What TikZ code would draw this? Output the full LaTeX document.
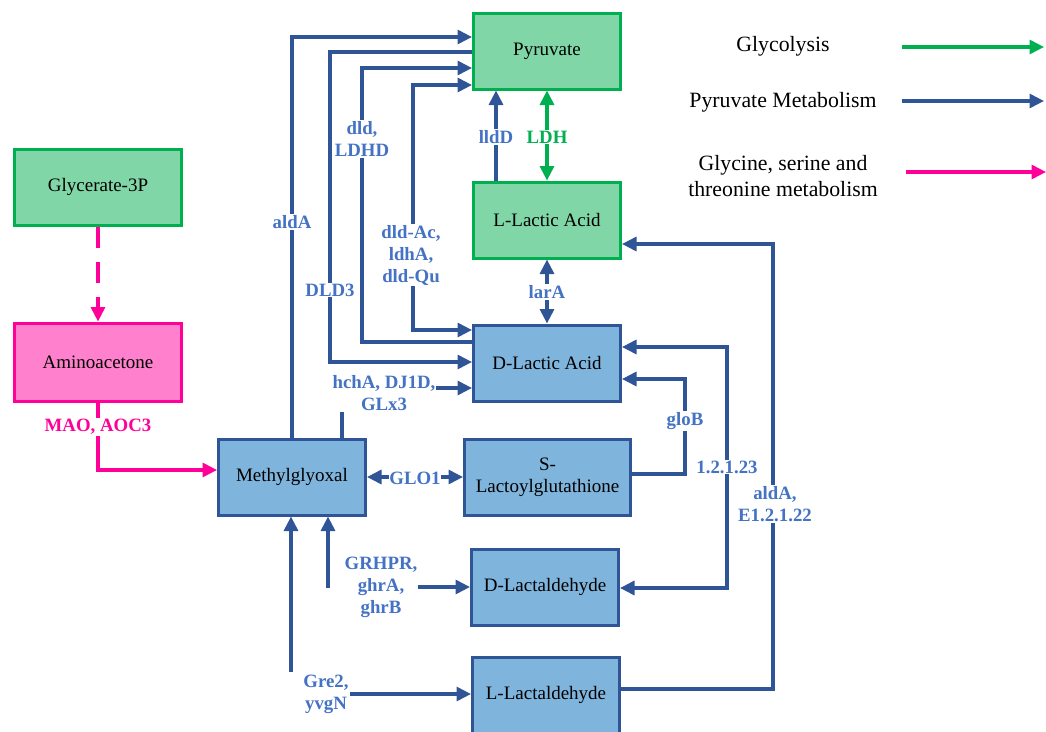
\documentclass[tikz,border=0pt]{standalone}
\usepackage{fontspec}
\setmainfont{Liberation Serif}
\usetikzlibrary{arrows.meta}
\definecolor{gfill}{RGB}{128,214,166}
\definecolor{gline}{RGB}{0,176,80}
\definecolor{bfill}{RGB}{127,180,220}
\definecolor{bline}{RGB}{47,85,151}
\definecolor{blab}{RGB}{68,114,196}
\definecolor{pfill}{RGB}{255,128,204}
\definecolor{pline}{RGB}{255,0,153}
\begin{document}
\begin{tikzpicture}[x=1pt,y=-1pt,
  box/.style={rectangle, draw, line width=3pt, align=center, inner sep=2pt,
    font=\fontsize{19}{22}\selectfont, text=black},
  gbox/.style={box, fill=gfill, draw=gline},
  bbox/.style={box, fill=bfill, draw=bline},
  pbox/.style={box, fill=pfill, draw=pline},
  tip/.tip={Triangle[length=14.5pt,width=14pt]},
  conn/.style={line width=3.2pt, draw=bline, -tip},
  conn2/.style={line width=3.2pt, draw=bline, tip-tip},
  gconn2/.style={line width=3.2pt, draw=gline, tip-tip},
  pconn/.style={line width=3.2pt, draw=pline, -tip},
  lab/.style={fill=white, inner sep=1pt, text=blab, align=center,
    font=\bfseries\fontsize{18.8}{22}\selectfont},
  glab/.style={lab, text=gline},
  plab/.style={lab, text=pline},
  leg/.style={align=center, font=\fontsize{21.8}{26}\selectfont}
]
\useasboundingbox (0,0) rectangle (1046,731);

% nodes
\node[gbox, minimum width=147pt, minimum height=76pt] (Pyr) at (547,51) {Pyruvate};
\node[gbox, minimum width=147pt, minimum height=76pt] (LLac) at (547,220) {L-Lactic Acid};
\node[bbox, minimum width=147pt, minimum height=76pt] (DLac) at (547,363) {D-Lactic Acid};
\node[gbox, minimum width=167pt, minimum height=76pt] (Gly) at (98,187) {Glycerate-3P};
\node[pbox, minimum width=167pt, minimum height=78pt] (Ami) at (98,362) {Aminoacetone};
\node[bbox, minimum width=147pt, minimum height=76pt] (Met) at (292,477) {Methylglyoxal};
\node[bbox, minimum width=166pt, minimum height=76pt] (SLac) at (547.5,477) {S-\\Lactoylglutathione};
\node[bbox, minimum width=147pt, minimum height=76pt] (DLal) at (545,587) {D-Lactaldehyde};
\node[bbox, minimum width=147pt, minimum height=76pt] (LLal) at (546,695) {L-Lactaldehyde};

% bend coordinates
\coordinate (aA) at (292,37);
\coordinate (dA) at (330,52);
\coordinate (dB) at (330,362);
\coordinate (eA) at (362,342);
\coordinate (eB) at (362,68);
\coordinate (fA) at (413,85);
\coordinate (fB) at (413,330);
\coordinate (hA) at (342,388);
\coordinate (gA) at (685,474);
\coordinate (gB) at (685,379);
\coordinate (iA) at (727,347);
\coordinate (iB) at (727,588);
\coordinate (jA) at (773,689);
\coordinate (jB) at (773,244);
\coordinate (kA) at (496,0);
\coordinate (mA) at (328,588);
\coordinate (nA) at (291,672);
\coordinate (pA) at (0,470);

% connectors
\draw[conn] (Met.north) -- (aA) -- (Pyr.west |- aA);
\draw[conn] (Pyr.west |- dA) -- (dA) -- (dB) -- (DLac.west |- dB);
\draw[conn] (DLac.west |- eA) -- (eA) -- (eB) -- (Pyr.west |- eB);
\draw[conn2] (Pyr.west |- fA) -- (fA) -- (fB) -- (DLac.west |- fB);
\draw[conn] (Met.north -| hA) -- (hA) -- (DLac.west |- hA);
\draw[conn2] (Met.east) -- (SLac.west |- Met.east);
\draw[conn] (SLac.east |- gA) -- (gA) -- (gB) -- (DLac.east |- gB);
\draw[conn2] (DLac.east |- iA) -- (iA) -- (iB) -- (DLal.east |- iB);
\draw[conn] (LLal.east |- jA) -- (jA) -- (jB) -- (LLac.east |- jB);
\draw[conn] (LLac.north -| kA) -- (Pyr.south -| kA);
\draw[gconn2] (Pyr.south) -- (LLac.north);
\draw[conn2] (LLac.south) -- (DLac.north);
\draw[conn] (mA) -- (Met.south -| mA);
\draw[conn] (nA) -- (Met.south -| nA);
\draw[pconn, dash pattern=on 21pt off 14pt] (Gly.south) -- (Ami.north);
\draw[pconn] (Ami.south) -- (Ami.south |- pA) -- (Met.west |- pA);

% labels
\node[lab] (lAldA) at (292,222) {aldA};
\node[lab] (lDLD3) at (330,290) {DLD3};
\node[lab] (lLDHD) at (362,139) {dld,\\LDHD};
\node[lab] (lDldAc) at (411,255) {dld-Ac,\\ldhA,\\dld-Qu};
\node[lab] (lHch) at (384,393) {hchA, DJ1D,\\GLx3};
\node[lab, inner sep=0.5pt] (lGLO) at (415,478) {GLO1};
\node[lab] (lGloB) at (685,421) {gloB};
\node[lab] (l1223) at (727,467) {1.2.1.23};
\node[lab] (lAldE) at (775,504) {aldA,\\E1.2.1.22};
\node[lab] (lLldD) at (496,137) {lldD};
\node[glab] (lLDH) at (547,137) {LDH};
\node[lab] (lLarA) at (547,292) {larA};
\node[lab] (lGRH) at (381,587) {GRHPR,\\ghrA,\\ghrB};
\node[lab] (lGre) at (326,694) {Gre2,\\yvgN};
\node[plab] (lMAO) at (98,427) {MAO, AOC3};

\draw[conn] (lGRH.east) -- (DLal.west |- lGRH.east);
\draw[conn] (lGre.east) -- (LLal.west |- lGre.east);

% legend
\node[leg] (lg1) at (783,46) {Glycolysis};
\node[leg] (lg2) at (783,102) {Pyruvate Metabolism};
\node[leg] (lg3) at (783,176) {Glycine, serine and\\threonine metabolism};
\coordinate (g1a) at (902,47);
\coordinate (g1b) at (1044,47);
\coordinate (g2a) at (902,101);
\coordinate (g2b) at (1044,101);
\coordinate (g3a) at (906,172);
\coordinate (g3b) at (1046,172);
\draw[line width=3.2pt, draw=gline, -tip] (g1a) -- (g1b);
\draw[conn] (g2a) -- (g2b);
\draw[pconn] (g3a) -- (g3b);
\end{tikzpicture}
\end{document}
